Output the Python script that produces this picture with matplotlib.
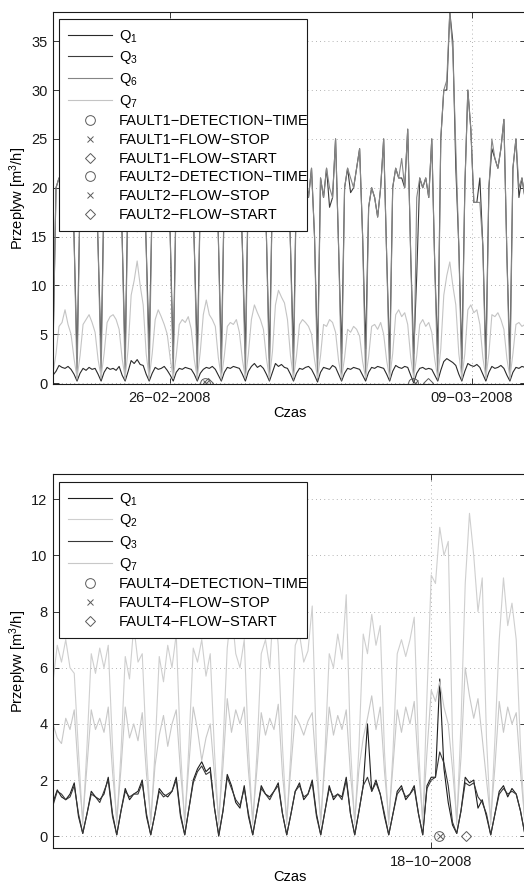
import matplotlib
matplotlib.use('Agg')
import matplotlib.pyplot as plt
import numpy as np

plt.rcParams['font.family'] = ['Liberation Sans', 'DejaVu Sans']
plt.rcParams['font.size'] = 10.5
plt.rcParams['mathtext.fontset'] = 'custom'
plt.rcParams['mathtext.rm'] = 'Liberation Sans'
plt.rcParams['mathtext.it'] = 'Liberation Sans'
plt.rcParams['mathtext.default'] = 'regular'

# ---- top panel (luty/marzec 2008), ~3 h samples, night dips every 8 samples
top_q1 = [0.8,
	1.2, 1.8, 1.6, 1.5, 1.7, 1.4, 0.9, 0.2,
	1.0, 1.5, 1.3, 1.6, 1.4, 1.5, 0.9, 0.2,
	1.1, 1.6, 1.4, 1.5, 1.3, 1.7, 0.8, 0.2,
	1.2, 2.3, 2.0, 2.4, 1.9, 1.8, 0.9, 0.2,
	1.0, 1.6, 1.4, 1.5, 1.7, 1.3, 0.8, 0.2,
	1.1, 1.5, 1.4, 1.6, 1.5, 1.4, 0.9, 0.2,
	1.0, 1.4, 1.6, 1.5, 1.7, 1.4, 0.8, 0.2,
	1.1, 1.6, 1.5, 1.7, 1.6, 1.5, 0.9, 0.2,
	1.2, 1.7, 2.0, 1.6, 1.8, 1.5, 0.9, 0.2,
	1.1, 2.0, 1.7, 1.9, 1.6, 1.5, 0.9, 0.2,
	1.0, 1.5, 1.4, 1.6, 1.7, 1.4, 0.8, 0.1,
	1.1, 1.6, 1.5, 1.4, 1.8, 1.6, 0.9, 0.2,
	1.0, 1.5, 1.4, 1.6, 1.5, 1.4, 0.8, 0.2,
	1.1, 1.6, 1.5, 1.7, 1.6, 1.5, 0.9, 0.2,
	1.2, 1.8, 1.6, 1.5, 1.7, 1.6, 0.8, 0.0,
	1.0, 1.5, 1.6, 1.4, 1.5, 1.4, 0.8, 0.2,
	1.3, 2.2, 2.5, 2.3, 2.1, 1.8, 0.9, 0.2,
	1.2, 2.0, 1.8, 1.7, 1.9, 1.6, 0.9, 0.2,
	1.1, 1.7, 1.5, 1.6, 1.8, 1.5, 0.8, 0.2,
	1.1, 1.6, 1.5, 1.7, 1.6]

top_q3 = [3.5,
	20, 21, 19, 22, 20, 23, 15, 2.5,
	19, 21, 20, 22, 21, 24, 14, 3.0,
	20, 22, 21, 20, 23, 25, 15, 2.5,
	21, 20, 22, 15.5, 22, 24, 14, 3.5,
	19, 21, 20, 22, 20, 23, 15, 2.5,
	20, 22, 21, 20, 21, 24, 14, 3.0,
	19, 21, 22, 20, 22, 25, 15, 2.5,
	20, 21, 19, 21, 20, 23, 14, 3.0,
	21, 20, 22, 19, 21, 24, 15, 2.5,
	20, 22, 21, 20, 22, 25, 14, 3.0,
	21, 20, 22, 21, 19, 22, 15, 2.5,
	21, 19, 22, 18, 19, 25, 14, 3.0,
	20, 22, 19.5, 20, 22, 24, 15, 3.5,
	18, 20, 19, 17, 20, 25, 13, 2.5,
	20, 22, 21, 21, 20, 26, 13, 3.0,
	11, 21, 20, 21, 19, 25, 12, 3.0,
	25, 30, 30, 38, 35, 22, 14, 2.5,
	20, 30, 26, 18.5, 18.5, 21, 14, 2.5,
	20, 24, 23, 22, 24, 27, 13, 2.5,
	22, 25, 19, 21, 19]

top_q6 = [3.0,
	20, 21, 19, 22, 20, 23, 15, 0.3,
	19, 21, 20, 22, 21, 24, 14, 0.4,
	20, 22, 21, 20, 23, 25, 15, 0.3,
	21, 20, 22, 21, 22, 24, 14, 0.3,
	19, 21, 20, 22, 20, 23, 15, 0.5,
	20, 22, 21, 20, 21, 24, 14, 0.3,
	19, 21, 22, 20, 22, 25, 15, 0.3,
	20, 21, 19, 21, 20, 23, 14, 0.4,
	21, 20, 22, 19, 21, 24, 15, 0.3,
	20, 22, 21, 20, 22, 25, 14, 0.3,
	21, 20, 22, 21, 19, 22, 15, 0.3,
	21, 19, 22, 20, 19, 25, 14, 0.3,
	20, 22, 21, 20, 22, 24, 15, 0.4,
	18, 20, 19, 17, 20, 25, 13, 0.3,
	20, 22, 21, 23, 20, 26, 13, 0.2,
	19, 21, 20, 21, 19, 25, 12, 0.3,
	25, 30, 31, 38, 34, 24, 14, 0.3,
	20, 30, 26, 18.5, 18.5, 18.5, 14, 0.4,
	20, 25, 23, 22, 24, 27, 13, 0.3,
	22, 25, 20, 21, 19]

top_q7 = [1.0,
	3.0, 5.8, 6.2, 7.5, 6.0, 5.0, 2.5, 0.5,
	2.8, 6.0, 6.5, 7.0, 6.2, 5.2, 2.4, 0.6,
	3.0, 6.2, 6.8, 7.0, 6.5, 5.5, 2.5, 0.5,
	3.5, 9.0, 10.5, 12.5, 10.0, 8.0, 3.0, 0.5,
	3.0, 6.5, 7.5, 6.8, 6.0, 5.0, 2.5, 0.5,
	2.8, 6.0, 6.5, 6.2, 6.8, 5.5, 2.4, 0.5,
	3.2, 7.0, 8.5, 7.0, 6.5, 5.8, 2.6, 0.5,
	2.8, 5.8, 6.2, 6.0, 6.5, 5.2, 2.4, 0.5,
	3.0, 6.5, 8.0, 7.2, 6.5, 5.5, 2.5, 0.5,
	3.2, 8.0, 9.5, 8.8, 8.2, 6.5, 2.8, 0.5,
	2.8, 6.0, 6.5, 6.2, 5.8, 5.0, 2.4, 0.5,
	2.8, 6.0, 5.8, 6.5, 6.2, 5.2, 2.3, 0.5,
	2.6, 5.5, 5.2, 5.8, 5.5, 4.8, 2.2, 0.5,
	2.7, 5.8, 6.0, 5.5, 6.2, 5.0, 2.3, 0.5,
	3.0, 7.0, 7.5, 6.8, 7.2, 6.0, 2.6, 0.5,
	2.8, 6.0, 6.5, 5.8, 6.2, 5.2, 2.4, 0.5,
	3.5, 9.0, 11.0, 12.4, 10.0, 8.0, 3.0, 0.5,
	3.0, 7.5, 8.0, 7.2, 7.5, 6.0, 2.6, 0.5,
	3.0, 7.0, 6.8, 7.2, 6.5, 5.5, 2.5, 0.5,
	3.0, 6.0, 6.2, 5.8, 6.0]

top_tick_pos = [38.9, 139.3]
top_tick_labels = ["26\u221202\u22122008", "09\u221203\u22122008"]

# fault events (sample index on the time axis)
fault1_detect = 50.5
fault1_stop = 51.0
fault1_start = 51.5
fault2_detect = 119.8
fault2_stop = 120.3
fault2_start = 124.8

# ---- bottom panel (pazdziernik 2008)
bot_q1 = [1.2, 1.65, 1.4, 1.3, 1.5, 1.9, 0.7, 0.1,
	0.8, 1.6, 1.4, 1.3, 1.5, 2.1, 0.8, 0.05,
	0.9, 1.7, 1.3, 1.5, 1.6, 2.0, 0.7, 0.05,
	0.8, 1.7, 1.5, 1.4, 1.6, 2.1, 0.8, 0.05,
	1.0, 2.0, 2.4, 2.65, 2.3, 2.45, 1.0, 0.0,
	0.9, 2.2, 1.8, 1.2, 1.0, 1.8, 0.7, 0.05,
	0.9, 1.8, 1.5, 1.4, 1.6, 1.9, 0.8, 0.05,
	0.8, 1.6, 1.9, 1.3, 1.5, 2.0, 0.8, 0.05,
	0.9, 1.8, 1.3, 1.5, 1.4, 2.1, 0.8, 0.05,
	0.9, 1.8, 4.0, 1.6, 2.0, 1.5, 0.7, 0.05,
	0.8, 1.6, 1.8, 1.3, 1.5, 1.8, 0.8, 0.05,
	1.8, 2.1, 2.1, 5.6, 2.4, 1.2, 0.4, 0.1,
	0.9, 2.1, 1.9, 2.0, 1.0, 1.3, 0.7, 0.05,
	0.8, 1.6, 1.8, 1.4, 1.7, 1.5, 0.9, 0.1]

bot_q2 = [5.5, 6.8, 6.2, 7.0, 6.0, 5.8, 3.0, 0.4,
	3.2, 6.5, 5.8, 6.7, 6.0, 6.8, 3.2, 0.4,
	3.0, 6.4, 5.6, 7.5, 6.2, 6.5, 3.0, 0.4,
	3.0, 6.4, 5.5, 6.8, 6.0, 7.2, 3.1, 0.4,
	3.3, 6.7, 6.2, 7.0, 5.7, 6.5, 3.0, 0.4,
	3.2, 6.7, 8.1, 6.5, 6.0, 7.0, 3.1, 0.4,
	3.0, 6.5, 7.0, 6.0, 8.5, 6.8, 3.2, 0.4,
	3.1, 6.8, 7.2, 6.2, 6.6, 8.2, 3.0, 0.4,
	3.0, 6.5, 6.0, 7.2, 6.3, 8.6, 3.2, 0.4,
	3.2, 7.2, 6.5, 7.9, 6.8, 7.5, 3.0, 0.4,
	3.0, 6.5, 7.0, 6.4, 7.0, 7.8, 3.2, 0.4,
	5.0, 9.3, 9.0, 11.0, 10.0, 10.5, 3.5, 0.4,
	4.0, 9.0, 11.5, 10.0, 8.0, 9.2, 3.5, 0.4,
	3.5, 7.0, 9.2, 7.5, 8.3, 7.0, 3.2, 0.4]

bot_q3 = [1.1, 1.6, 1.5, 1.3, 1.4, 1.8, 0.8, 0.1,
	0.8, 1.5, 1.4, 1.2, 1.6, 2.0, 0.7, 0.05,
	0.9, 1.6, 1.4, 1.5, 1.5, 1.9, 0.8, 0.05,
	0.8, 1.6, 1.4, 1.5, 1.6, 2.0, 0.7, 0.05,
	1.0, 1.9, 2.3, 2.5, 2.2, 2.3, 1.0, 0.05,
	0.9, 2.1, 1.7, 1.3, 1.1, 1.7, 0.8, 0.05,
	0.9, 1.7, 1.5, 1.3, 1.6, 1.8, 0.8, 0.05,
	0.8, 1.6, 1.8, 1.4, 1.5, 1.9, 0.7, 0.05,
	0.9, 1.7, 1.4, 1.5, 1.3, 2.0, 0.8, 0.05,
	0.9, 1.8, 2.1, 1.6, 1.9, 1.5, 0.8, 0.05,
	0.8, 1.5, 1.7, 1.4, 1.5, 1.7, 0.8, 0.05,
	1.7, 2.0, 2.1, 3.0, 2.6, 1.8, 0.5, 0.1,
	0.9, 1.9, 1.8, 1.9, 1.4, 1.2, 0.8, 0.05,
	0.8, 1.5, 1.7, 1.5, 1.6, 1.5, 0.9, 0.1]

bot_q7 = [4.0, 3.5, 3.3, 4.2, 3.8, 4.5, 2.2, 0.6,
	2.5, 4.5, 3.8, 4.2, 3.7, 4.6, 2.3, 0.6,
	2.4, 4.6, 3.5, 4.0, 3.4, 4.4, 2.2, 0.6,
	2.5, 3.6, 4.3, 3.2, 4.0, 4.5, 2.3, 0.6,
	2.6, 4.6, 3.8, 2.7, 3.5, 4.0, 2.2, 0.6,
	2.5, 4.9, 3.7, 4.5, 4.0, 4.6, 2.3, 0.6,
	2.4, 4.4, 3.6, 4.2, 3.8, 4.7, 2.2, 0.6,
	2.5, 4.3, 4.0, 3.6, 4.1, 4.4, 2.3, 0.6,
	2.6, 4.6, 3.6, 4.3, 3.8, 4.5, 2.2, 0.6,
	2.4, 3.5, 4.2, 5.0, 3.8, 4.6, 2.3, 0.6,
	2.5, 4.5, 3.7, 4.6, 4.0, 4.8, 2.4, 0.6,
	3.0, 5.2, 4.8, 5.5, 4.6, 4.0, 2.4, 0.6,
	2.8, 6.0, 5.0, 4.2, 4.9, 3.5, 2.0, 0.6,
	2.5, 4.8, 3.7, 4.6, 4.0, 4.4, 2.3, 0.6]

bot_tick_pos = [88.9]
bot_tick_labels = ["18\u221210\u22122008"]

fault4_detect = 90.9
fault4_stop = 91.1
fault4_start = 97.2

W, H = 524.0, 884.0
fig = plt.figure(figsize=(W/100.0, H/100.0), dpi=100)
fig.patch.set_facecolor('white')

ylab = "Przeplyw [m$^3$/h]"
mk_col = '#5a5a5a'


def style_axes(ax, tick_pos, tick_labels):
	ax.set_xticks(tick_pos)
	ax.set_xticklabels(tick_labels)
	ax.tick_params(direction='in', length=4, width=0.6, top=True, right=True, colors='#1a1a1a')
	ax.tick_params(axis='x', pad=5)
	ax.tick_params(axis='y', pad=4)
	ax.grid(True, linestyle=(0, (1, 4)), color='#9a9a9a', linewidth=0.6)
	ax.set_axisbelow(True)
	for s in ax.spines.values():
		s.set_linewidth(0.8)
		s.set_color('#1a1a1a')
	ax.set_xlabel("Czas", labelpad=1)
	ax.set_ylabel(ylab)
	ax.yaxis.set_label_coords(-0.05, 0.5)


def fault_markers(ax, detect, stop, start, n):
	ax.plot([detect], [0], 'o', ms=7, mfc='none', mec=mk_col, mew=0.7, label="FAULT%d\u2212DETECTION\u2212TIME" % n)
	ax.plot([stop], [0], 'x', ms=4.5, mec=mk_col, mew=0.7, label="FAULT%d\u2212FLOW\u2212STOP" % n)
	ax.plot([start], [0], 'D', ms=5, mfc='none', mec=mk_col, mew=0.7, label="FAULT%d\u2212FLOW\u2212START" % n)


def add_legend(ax, top_off, ax_h):
	# fixed box width (59..307 px), like the original legend box
	leg = ax.legend(loc='upper left', bbox_to_anchor=(6/473, 1 - top_off/ax_h, 248/473, 0),
		mode='expand', borderaxespad=0,
		fancybox=False, framealpha=1, edgecolor='#1a1a1a', handlelength=3.0,
		handletextpad=0.5, labelspacing=0.32, borderpad=0.6, fontsize=10.5)
	leg.get_frame().set_linewidth(0.8)


#top
ax1 = fig.add_axes([53/W, 1 - 384/H, 473/W, 372/H])
x = np.arange(len(top_q6))
ax1.plot(x, top_q1, color='#2a2a2a', lw=0.8, label="Q$_1$")
ax1.plot(x, top_q3, color='#3c3c3c', lw=0.8, label="Q$_3$")
ax1.plot(x, top_q6, color='#858585', lw=0.8, label="Q$_6$")
ax1.plot(x, top_q7, color='#c4c4c4', lw=0.8, label="Q$_7$")
fault_markers(ax1, fault1_detect, fault1_stop, fault1_start, 1)
fault_markers(ax1, fault2_detect, fault2_stop, fault2_start, 2)
ax1.set_xlim(0, 157.35)
ax1.set_ylim(-0.1, 38)
ax1.set_yticks(np.arange(0, 36, 5))
style_axes(ax1, top_tick_pos, top_tick_labels)
add_legend(ax1, 7, 372)

#bottom
ax2 = fig.add_axes([53/W, 1 - 848/H, 473/W, 374/H])
x = np.arange(len(bot_q1))
ax2.plot(x, bot_q1, color='#1e1e1e', lw=0.8, label="Q$_1$")
ax2.plot(x, bot_q2, color='#cfcfcf', lw=0.8, label="Q$_2$")
ax2.plot(x, bot_q3, color='#383838', lw=0.8, label="Q$_3$")
ax2.plot(x, bot_q7, color='#c8c8c8', lw=0.8, label="Q$_7$")
fault_markers(ax2, fault4_detect, fault4_stop, fault4_start, 4)
ax2.set_xlim(0, 111.3)
ax2.set_ylim(-0.42, 12.9)
ax2.set_yticks(np.arange(0, 13, 2))
style_axes(ax2, bot_tick_pos, bot_tick_labels)
add_legend(ax2, 8, 374)

fig.savefig("out.png", dpi=100)
